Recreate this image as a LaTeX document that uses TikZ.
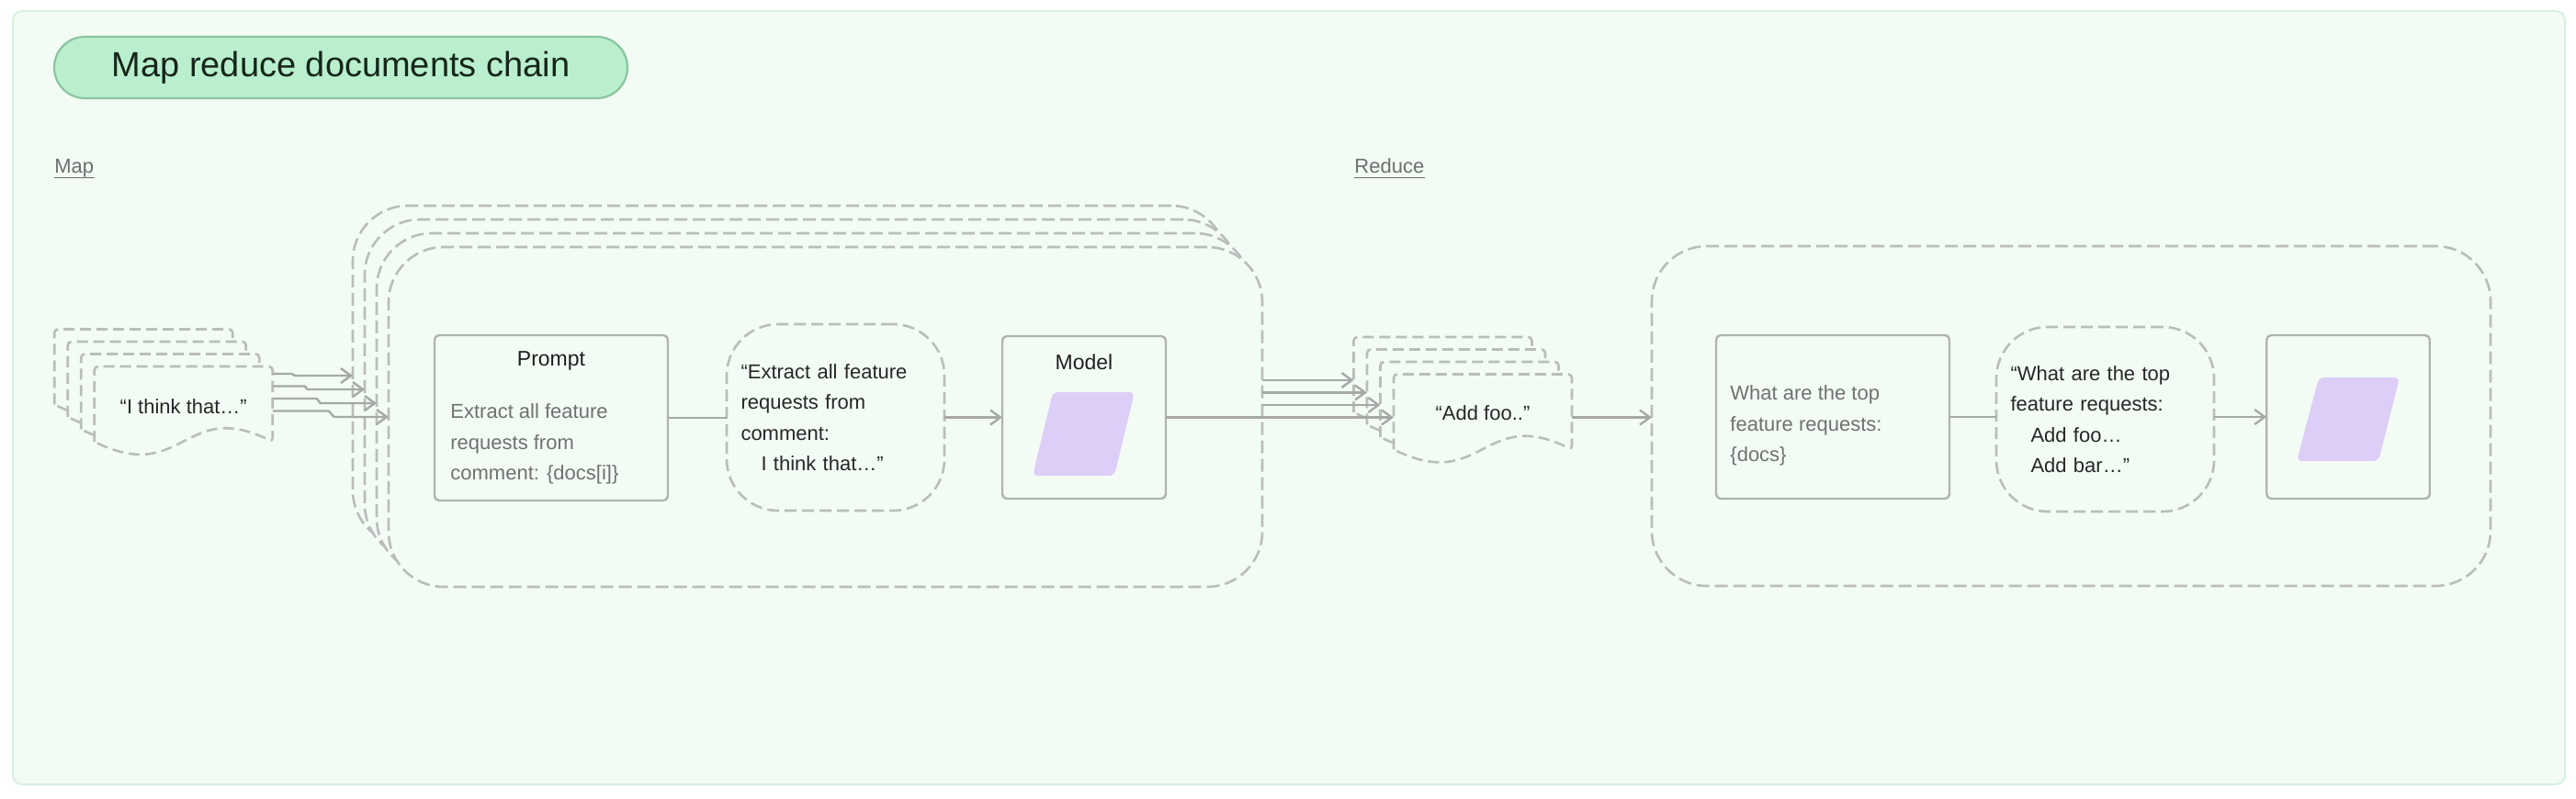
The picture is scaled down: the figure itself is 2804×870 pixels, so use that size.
\documentclass[tikz,border=0pt]{standalone}
\usepackage{fontspec}
\setmainfont{Liberation Sans}
\usetikzlibrary{arrows.meta,calc}
\definecolor{panelbg}{RGB}{243,251,245}
\definecolor{panelborder}{RGB}{214,240,222}
\definecolor{pillfill}{RGB}{185,239,205}
\definecolor{pillborder}{RGB}{138,197,158}
\definecolor{titletext}{RGB}{22,38,27}
\definecolor{dashgray}{RGB}{186,189,186}
\definecolor{boxgray}{RGB}{176,179,176}
\definecolor{arrowgray}{RGB}{166,169,166}
\definecolor{lav}{RGB}{221,206,247}
\definecolor{bodygray}{RGB}{112,114,112}
\definecolor{darktext}{RGB}{38,40,38}
\definecolor{labelgray}{RGB}{110,112,110}
\newcommand\docoutline[1]{%
  \draw[docline] (#1.south west) [rounded corners=2pt] -- (#1.north west) -- (#1.north east) -- (#1.south east) [sharp corners]
    .. controls ($(#1.south)+(0,-48)$) and ($(#1.south)+(0,48)$) .. (#1.south west) -- cycle;}
\begin{document}
\begin{tikzpicture}[x=0.5pt,y=-0.5pt,
  panel/.style={draw=panelborder,fill=panelbg,line width=1pt,rounded corners=5pt},
  pill/.style={draw=pillborder,fill=pillfill,line width=1.1pt,rounded corners=16.75pt,
    minimum width=312pt,minimum height=33.5pt,inner sep=0pt,text=titletext,
    font=\fontsize{19}{23}\selectfont},
  seclabel/.style={inner sep=0pt,text=labelgray,font=\fontsize{11}{13}\selectfont},
  uline/.style={draw=labelgray,line width=0.9pt},
  mframe/.style={draw=dashgray,line width=1.3pt,dash pattern=on 7pt off 3pt,fill=panelbg,
    rounded corners=30pt,inner sep=0pt,outer sep=0pt},
  sbox/.style={draw=boxgray,line width=1.2pt,fill=panelbg,rounded corners=2.5pt,inner sep=0pt,outer sep=0pt},
  bubble/.style={draw=dashgray,line width=1.3pt,dash pattern=on 6.5pt off 3pt,fill=panelbg,
    rounded corners=28pt,inner sep=0pt,outer sep=0pt,minimum width=118.5pt,
    text width=103pt,align=left,text=darktext,font=\fontsize{11}{16.75}\selectfont},
  docnode/.style={minimum width=97pt,minimum height=41pt,inner sep=0pt,outer sep=0pt},
  docline/.style={draw=dashgray,line width=1.3pt,dash pattern=on 6pt off 3pt,fill=panelbg},
  doctxt/.style={inner sep=0pt,text=darktext,font=\fontsize{11}{13}\selectfont},
  boxtitle/.style={inner sep=0pt,text=black!88,font=\fontsize{11.5}{14}\selectfont},
  bodytxt/.style={inner sep=0pt,align=left,text=bodygray,font=\fontsize{11}{16.75}\selectfont},
  conn/.style={draw=arrowgray,line width=1.2pt},
  arr/.style={conn,-{Straight Barb[length=5.5pt,width=8pt]}}
]
\useasboundingbox (0,0) rectangle (2804,870);
\fill[white] (0,0) rectangle (2804,870);
\draw[panel] (14,12) rectangle (2792,854);

% title and section labels
\node[pill] (title) at (371,73.5) {Map reduce documents chain};
\node[seclabel,anchor=base west] (maplbl) at (59,189) {Map};
\draw[uline] ($(maplbl.base west)+(0,4.5)$) -- ($(maplbl.base east)+(0,4.5)$);
\node[seclabel,anchor=base west] (redlbl) at (1474,189) {Reduce};
\draw[uline] ($(redlbl.base west)+(0,4.5)$) -- ($(redlbl.base east)+(0,4.5)$);

% ---------- Map stage: stacked frames ----------
\node[mframe,minimum width=475.5pt,minimum height=185pt] (f1) at (859.5,409) {};
\node[mframe,minimum width=475.5pt,minimum height=185pt] (f2) at (872.5,424) {};
\node[mframe,minimum width=475.5pt,minimum height=185pt] (f3) at (885.5,439) {};
\node[mframe,minimum width=475.5pt,minimum height=185pt] (f4) at (898.5,454) {};

% prompt
\node[sbox,minimum width=127pt,minimum height=90pt] (p1) at (600,455) {};
\node[boxtitle] (p1t) at ($(p1.north)+(0,28)$) {Prompt};
\node[bodytxt,anchor=west] (p1b) at ($(p1.west)+(17,28.5)$) {Extract all feature\\requests from\\comment: \{docs[i]\}};

% filled prompt bubble
\node[bubble,minimum height=101.5pt] (b1) at (909.5,454.5)
  {“Extract all feature\\requests from\\comment:\\\hspace*{11pt}I think that…”};

% model
\node[sbox,minimum width=89pt,minimum height=88.5pt] (m1) at (1180,454.5) {};
\node[boxtitle] (m1t) at ($(m1.north)+(0,28)$) {Model};
\fill[lav,rounded corners=3pt] ($(m1.center)+(-34,-27.5)$) -- ($(m1.center)+(55,-27.5)$)
  -- ($(m1.center)+(33,63.5)$) -- ($(m1.center)+(-56,63.5)$) -- cycle;

\draw[conn] (p1.east) -- (p1.east -| b1.west);
\draw[arr] (b1.east |- m1.west) -- (m1.west);

% map input documents
\node[docnode] (md1) at (156.25,399.5) {};
\node[docnode] (md2) at (170.75,413) {};
\node[docnode] (md3) at (185.25,426.5) {};
\node[docnode] (md4) at (199.75,440) {};
\docoutline{md1}
\docoutline{md2}
\docoutline{md3}
\docoutline{md4}
\node[doctxt] (md4t) at ($(md4.center)+(0,3)$) {“I think that…”};

\draw[arr] ($(md4.east |- md1.center)+(0,7.5)$) -- ++(21,0) -- ($(md4.east |- f1.west)+(24,0)$) -- (f1.west);
\draw[arr] ($(md4.east |- md2.center)+(0,7.5)$) -- ++(35,0) -- ($(md4.east |- f2.west)+(38,0)$) -- (f2.west);
\draw[arr] ($(md4.east |- md3.center)+(0,7.5)$) -- ++(48,0) -- ($(md4.east |- f3.west)+(52,0)$) -- (f3.west);
\draw[arr] ($(md4.east |- md4.center)+(0,7.5)$) -- ++(61,0) -- ($(md4.east |- f4.west)+(67,0)$) -- (f4.west);

% ---------- Reduce stage ----------
\node[mframe,minimum width=456.5pt,minimum height=185pt] (rf) at (2254.5,453) {};
\node[sbox,minimum width=127pt,minimum height=89pt] (p2) at (1995,454) {};
\node[bodytxt,anchor=west] (p2b) at ($(p2.west)+(15,9.5)$) {What are the top\\feature requests:\\\{docs\}};
\node[bubble,minimum height=100.5pt] (b2) at (2291.5,456.5)
  {“What are the top\\feature requests:\\\hspace*{11pt}Add foo…\\\hspace*{11pt}Add bar…”};
\node[sbox,minimum width=88.75pt,minimum height=89pt] (m2) at (2556,454) {};
\fill[lav,rounded corners=3pt] ($(m2.center)+(-32,-43)$) -- ($(m2.center)+(56,-43)$)
  -- ($(m2.center)+(33,48)$) -- ($(m2.center)+(-56,48)$) -- cycle;

\draw[conn] (p2.east) -- (p2.east -| b2.west);
\draw[arr] (b2.east |- m2.west) -- (m2.west);

% intermediate documents
\node[docnode] (rd1) at (1570.5,408) {};
\node[docnode] (rd2) at (1585,421.5) {};
\node[docnode] (rd3) at (1599.5,435) {};
\node[docnode] (rd4) at (1614,448.5) {};
\docoutline{rd1}
\docoutline{rd2}
\docoutline{rd3}
\docoutline{rd4}
\node[doctxt] (rd4t) at ($(rd4.center)+(0,1.5)$) {“Add foo..”};

\draw[arr] ($(f4.east |- rd1.center)+(0,6)$) -- ($(rd1.west)+(0,6)$);
\draw[arr] ($(f4.east |- rd2.center)+(0,6)$) -- ($(rd2.west)+(0,6)$);
\draw[arr] ($(f4.east |- rd3.center)+(0,6)$) -- ($(rd3.west)+(0,6)$);
\draw[arr] (m1.east) -- (m1.east -| rd4.west);
\draw[arr] ($(rd4.east)+(0,6)$) -- ($(rf.west |- rd4.east)+(0,6)$);
\end{tikzpicture}
\end{document}
